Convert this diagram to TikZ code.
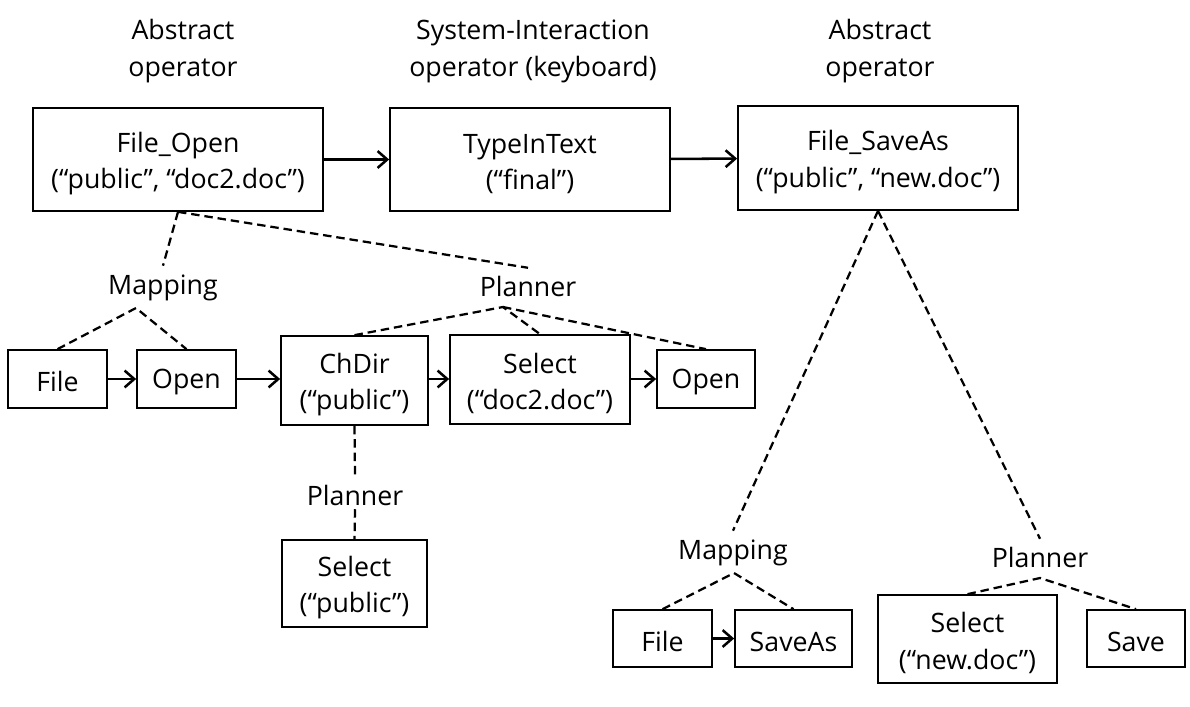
\documentclass[tikz,border=0pt]{standalone}
\usepackage{fontspec}
\setmainfont{Open Sans}
\usepackage{tikz}
\usetikzlibrary{arrows.meta}

\begin{document}
\begin{tikzpicture}[
  x=0.025cm, y=-0.025cm,
  font=\fontsize{19}{26}\selectfont,
  >={Straight Barb[length=2.4mm,width=4.2mm]},
  opbox/.style={draw=black, line width=1.2pt, align=center, inner sep=0pt, text height=18.5pt},
  opboxtwo/.style={opbox, text height=46pt},
  lbl/.style={align=center, inner sep=2pt, text height=18.5pt},
  hdr/.style={lbl, text height=43pt},
  seqarrow/.style={->, draw=black, line width=1.8pt},
  refine/.style={draw=black, line width=1.6pt, dash pattern=on 6pt off 3.5pt}
]
  \useasboundingbox (0,0) rectangle (1190,706);
  % headers
  \node[hdr] (hdrA) at (183,49) {Abstract\\operator};
  \node[hdr] (hdrS) at (533,49) {System-Interaction\\operator (keyboard)};
  \node[hdr] (hdrB) at (880,49) {Abstract\\operator};
  % top level operators
  \node[opboxtwo, minimum width=7.25cm, minimum height=2.575cm] (fopen) at (178,159.5) {File\_Open\\(“public”, “doc2.doc”)};
  \node[opboxtwo, minimum width=7cm, minimum height=2.575cm] (typein) at (530,159.5) {TypeInText\\(“final”)};
  \node[opboxtwo, minimum width=7cm, minimum height=2.6cm] (fsave) at (878,158) {File\_SaveAs\\(“public”, “new.doc”)};
  \draw[seqarrow] (fopen) -- (typein);
  \draw[seqarrow] (typein) -- (fsave);
  % labels
  \node[lbl] (mapA) at (163,285) {Mapping};
  \node[lbl] (planA) at (528,284) {Planner};
  \node[lbl] (planB) at (355,493) {Planner};
  \node[lbl] (mapB) at (733,550) {Mapping};
  \node[lbl] (planC) at (1040,555) {Planner};
  \coordinate (mapAtop) at (136,308);
  \coordinate (planAtop) at (503,307);
  \coordinate (mapBtop) at (734,573);
  \coordinate (planCtop) at (1040,578);
  % File_Open refinement
  \node[opbox, minimum width=2.475cm, minimum height=1.45cm] (fileA) at (57.5,379) {File};
  \node[opbox, minimum width=2.475cm, minimum height=1.45cm] (openA) at (186.5,379) {Open};
  \node[opboxtwo, minimum width=3.675cm, minimum height=2.225cm] (chdir) at (354.5,380.5) {ChDir\\(“public”)};
  \node[opboxtwo, minimum width=4.5cm, minimum height=2.225cm] (seldoc) at (540,379.5) {Select\\(“doc2.doc”)};
  \node[opbox, minimum width=2.45cm, minimum height=1.45cm] (openB) at (706,379) {Open};
  \node[opboxtwo, minimum width=3.625cm, minimum height=2.175cm] (selpub) at (354.5,583.5) {Select\\(“public”)};
  \draw[seqarrow] (fileA) -- (openA);
  \draw[seqarrow] (openA) -- (chdir.west |- openA.east);
  \draw[seqarrow] (chdir.east |- openA.east) -- (seldoc.west |- openA.east);
  \draw[seqarrow] (seldoc.east |- openA.east) -- (openB);
  \draw[refine] (fopen.south) -- (mapA.north);
  \draw[refine] (fopen.south) -- (planA.north);
  \draw[refine] (fileA.north) -- (mapAtop) -- (openA.north);
  \draw[refine] (chdir.north) -- (planAtop) -- (seldoc.north);
  \draw[refine] (planAtop) -- (openB.north);
  \draw[refine] (chdir.south) -- (planB.north);
  \draw[refine] (planB.south) -- (selpub.north);
  % File_SaveAs refinement
  \node[opbox, minimum width=2.475cm, minimum height=1.425cm] (fileB) at (662.5,638.5) {File};
  \node[opbox, minimum width=2.925cm, minimum height=1.425cm] (saveas) at (793.5,638.5) {SaveAs};
  \node[opboxtwo, minimum width=4.475cm, minimum height=2.2cm] (selnew) at (967.5,639) {Select\\(“new.doc”)};
  \node[opbox, minimum width=2.45cm, minimum height=1.425cm] (save) at (1136,638.5) {Save};
  \draw[seqarrow] (fileB) -- (saveas);
  \draw[refine] (fsave.south) -- (mapB.north);
  \draw[refine] (fsave.south) -- (planC.north);
  \draw[refine] (fileB.north) -- (mapBtop) -- (saveas.north);
  \draw[refine] (selnew.north) -- (planCtop) -- (save.north);
\end{tikzpicture}
\end{document}
